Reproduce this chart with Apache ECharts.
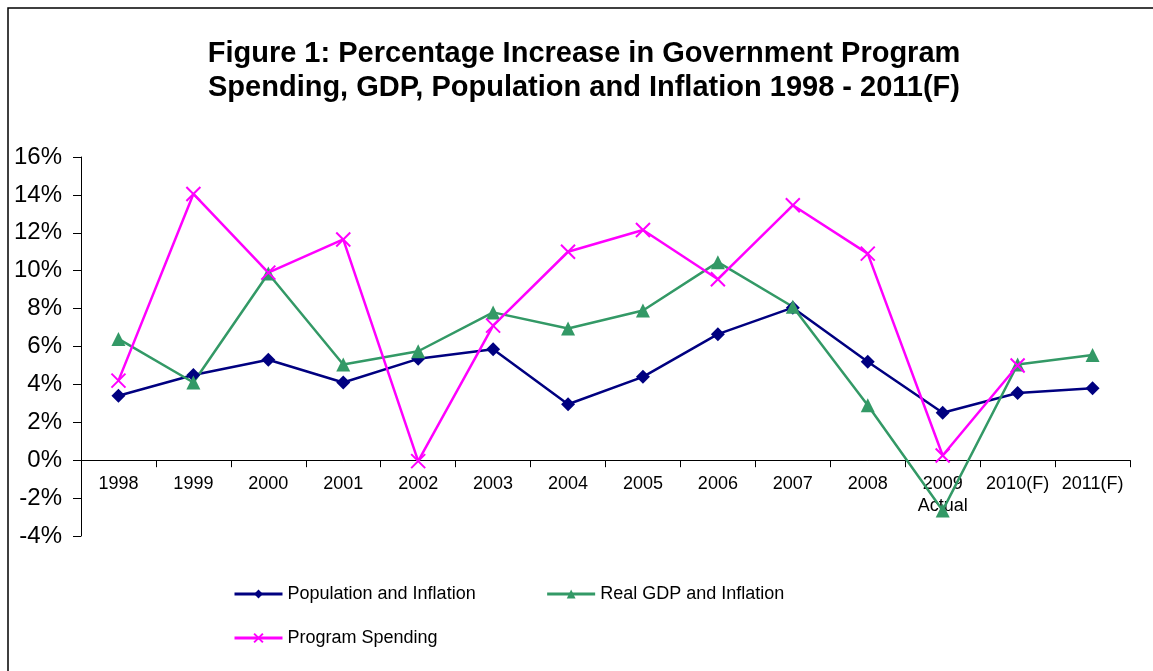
<!DOCTYPE html>
<html>
<head>
<meta charset="utf-8">
<script src="https://cdn.jsdelivr.net/npm/echarts@6/dist/echarts.min.js"></script>
<style>
  html, body { margin: 0; padding: 0; background: #fff; }
  #myChart { width: 1153px; height: 671px; }
</style>
</head>
<body>
<div id="myChart"></div>
<script>
var years = ['1998', '1999', '2000', '2001', '2002', '2003', '2004', '2005', '2006', '2007', '2008', '2009\nActual', '2010(F)', '2011(F)'];
var population = [3.4, 4.5, 5.3, 4.1, 5.35, 5.85, 2.95, 4.4, 6.65, 8.05, 5.2, 2.5, 3.55, 3.8];
var realGdp = [6.4, 4.1, 9.85, 5.05, 5.75, 7.8, 6.95, 7.9, 10.45, 8.1, 2.9, -2.65, 5.05, 5.55];
var spending = [4.2, 14.05, 9.9, 11.65, -0.05, 7.1, 11.0, 12.15, 9.55, 13.45, 10.9, 0.25, 5.0, null];
var yTicks = [-4, -2, 0, 2, 4, 6, 8, 10, 12, 14, 16];

var font = 'Liberation Sans, Arial, sans-serif';
var crossPath = 'path://M0,0L10,10M10,0L0,10';

function create_chart() {
    var myChart = echarts.init(document.getElementById('myChart'));
    var option = {
        backgroundColor: '#fff',
        animation: false,
        graphic: [{
            type: 'rect',
            shape: { x: 8, y: 8, width: 1160, height: 680 },
            style: { fill: 'none', stroke: '#000', lineWidth: 1.5 },
            silent: true
        }],
        title: {
            text: 'Figure 1: Percentage Increase in Government Program\nSpending, GDP, Population and Inflation 1998 - 2011(F)',
            left: 579,
            textAlign: 'center',
            top: 32,
            textStyle: {
                fontFamily: font,
                fontWeight: 'bold',
                fontSize: 29,
                lineHeight: 34,
                color: '#000'
            }
        },
        legend: [{
            data: ['Population and Inflation', 'Real GDP and Inflation'],
            left: 228,
            top: 580,
            itemWidth: 48,
            itemHeight: 11,
            itemGap: 70,
            lineStyle: { width: 3 },
            textStyle: { fontFamily: font, fontSize: 18, color: '#000' }
        }, {
            data: ['Program Spending'],
            left: 228,
            top: 624,
            itemWidth: 48,
            itemHeight: 11,
            lineStyle: { width: 3 },
            textStyle: { fontFamily: font, fontSize: 18, color: '#000' }
        }],
        grid: {
            left: 81,
            right: 23,
            top: 157,
            bottom: 135,
            containLabel: false
        },
        xAxis: {
            type: 'category',
            data: years,
            boundaryGap: true,
            axisLine: { onZero: true, lineStyle: { color: '#000', width: 1 } },
            axisTick: { show: true, length: 7, lineStyle: { color: '#000' } },
            axisLabel: {
                fontFamily: font,
                fontSize: 18,
                color: '#000',
                margin: -63,
                lineHeight: 22,
                interval: 0
            }
        },
        yAxis: {
            type: 'value',
            min: yTicks[0],
            max: yTicks[yTicks.length - 1],
            interval: 2,
            splitLine: { show: false },
            axisLine: { show: true, lineStyle: { color: '#000', width: 1 } },
            axisTick: { show: true, length: 8, lineStyle: { color: '#000' } },
            axisLabel: {
                fontFamily: font,
                fontSize: 24,
                color: '#000',
                margin: 19,
                formatter: '{value}%'
            }
        },
        series: [{
            name: 'Population and Inflation',
            type: 'line',
            data: population,
            color: '#000080',
            symbol: 'diamond',
            symbolSize: 14,
            lineStyle: { width: 2.5 }
        }, {
            name: 'Real GDP and Inflation',
            type: 'line',
            data: realGdp,
            color: '#339966',
            symbol: 'triangle',
            symbolSize: 14,
            lineStyle: { width: 2.5 }
        }, {
            name: 'Program Spending',
            type: 'line',
            data: spending,
            color: '#FF00FF',
            symbol: crossPath,
            symbolSize: 14,
            itemStyle: { borderColor: '#FF00FF', borderWidth: 2 },
            lineStyle: { width: 2.5 }
        }]
    };
    myChart.setOption(option);
}

create_chart();
</script>
</body>
</html>
